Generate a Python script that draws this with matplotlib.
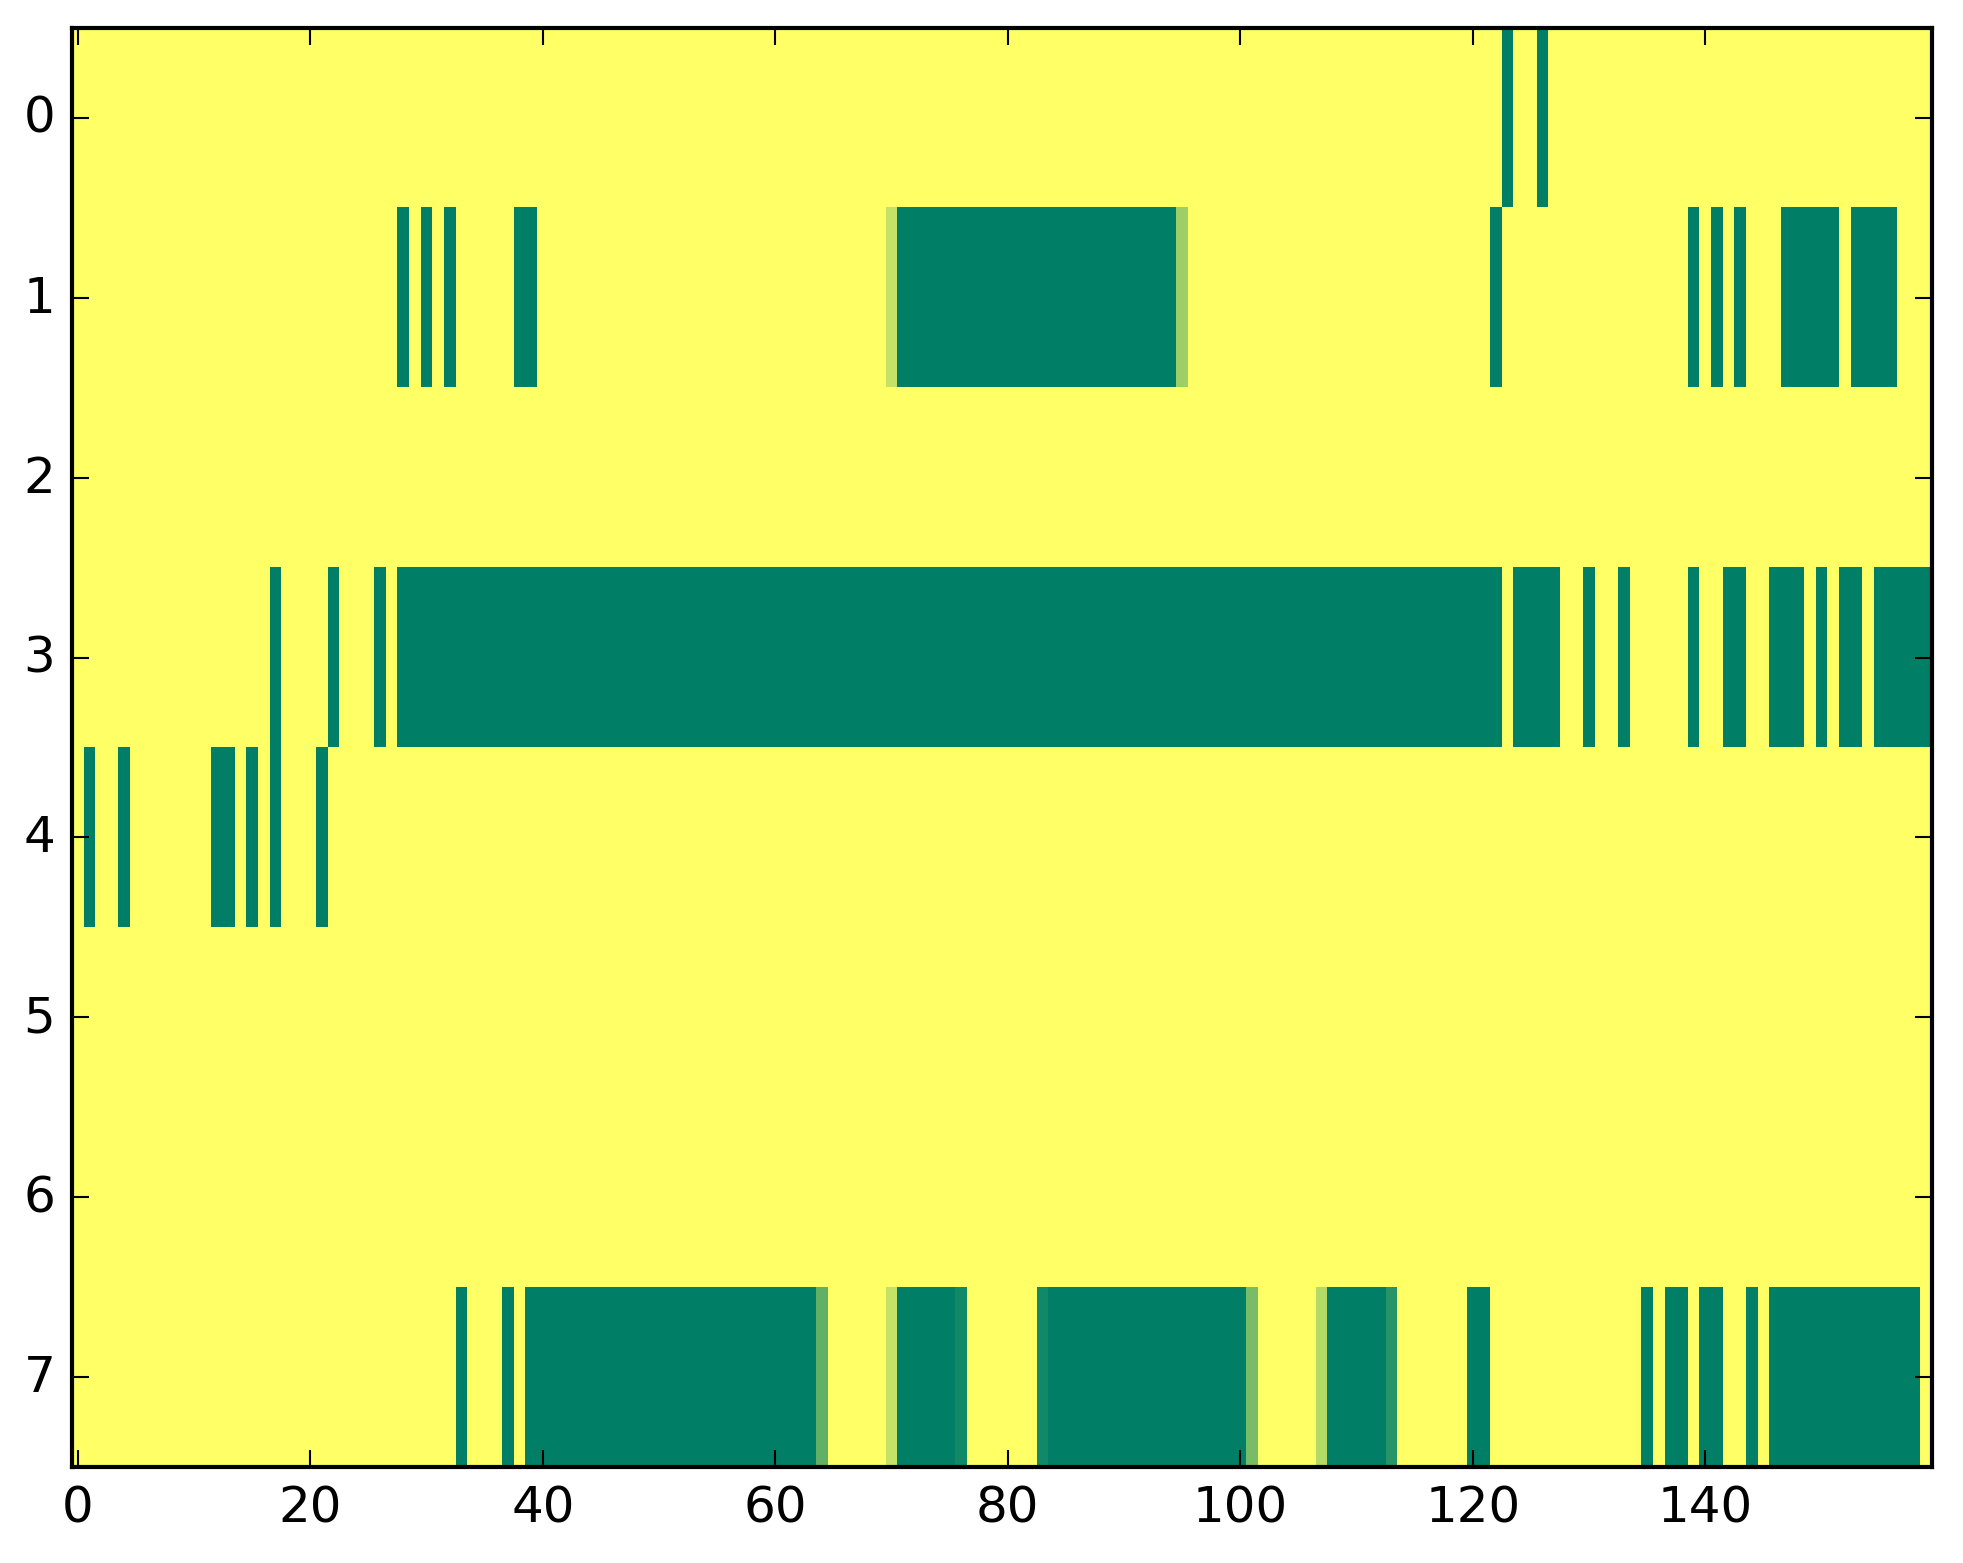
import numpy as np
import matplotlib
matplotlib.use("Agg")
import matplotlib.pyplot as plt

n_rows = 8
n_cols = 160

# runs of (first column, last column, value) per row; everything else is 1.0
row0 = [(123, 123, 0.0), (126, 126, 0.0)]
row1 = [(28, 28, 0.0), (30, 30, 0.0), (32, 32, 0.0), (38, 39, 0.0),
        (70, 70, 0.77), (71, 94, 0.0), (95, 95, 0.62),
        (122, 122, 0.0), (139, 139, 0.0), (141, 141, 0.0), (143, 143, 0.0),
        (147, 151, 0.0), (153, 156, 0.0)]
row2 = []
row3 = [(17, 17, 0.0), (22, 22, 0.0), (26, 26, 0.0), (28, 122, 0.0),
        (124, 127, 0.0), (130, 130, 0.0), (133, 133, 0.0), (139, 139, 0.0),
        (142, 143, 0.0), (146, 148, 0.0), (150, 150, 0.0), (152, 153, 0.0),
        (155, 159, 0.0)]
row4 = [(1, 1, 0.0), (4, 4, 0.0), (12, 13, 0.0), (15, 15, 0.0),
        (17, 17, 0.0), (21, 21, 0.0)]
row5 = []
row6 = []
row7 = [(33, 33, 0.0), (37, 37, 0.0), (39, 63, 0.0), (64, 64, 0.38),
        (70, 70, 0.77), (71, 75, 0.0), (76, 76, 0.07), (83, 83, 0.07),
        (84, 100, 0.0), (101, 101, 0.48), (107, 107, 0.70), (108, 112, 0.0),
        (113, 113, 0.16), (120, 121, 0.0), (135, 135, 0.0), (137, 138, 0.0),
        (140, 141, 0.0), (144, 144, 0.0), (146, 158, 0.0)]

rows = [row0, row1, row2, row3, row4, row5, row6, row7]

grid = np.ones((n_rows, n_cols))
for r, runs in enumerate(rows):
    for a, b, v in runs:
        grid[r, a:b + 1] = v

plt.style.use("classic")
fig = plt.figure(figsize=(1963 / 300, 1564 / 300), dpi=300)
ax = fig.add_axes([0.0367, 0.0614, 0.9475, 0.9201])
ax.imshow(grid, cmap="summer", vmin=0, vmax=1, aspect="auto",
          interpolation="nearest")
ax.set_xticks(np.arange(0, 141, 20))
ax.set_yticks(np.arange(0, 8))
ax.tick_params(labelsize=12)

fig.savefig("out.png", dpi=300)
